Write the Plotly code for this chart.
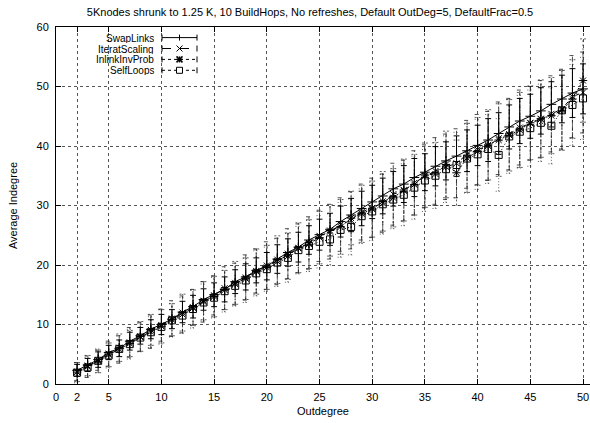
import plotly.graph_objects as go

# ---------------- data ----------------
outdegree = list(range(2, 51))

swap_y = [2.3, 3.2, 4.1, 5.3, 6.0, 7.2, 8.1, 9.2, 10.0, 10.9,
          12.1, 13.0, 14.2, 15.0, 15.9, 17.2, 18.0, 19.1, 19.8, 21.0,
          22.1, 23.0, 24.2, 25.1, 26.0, 27.3, 28.4, 29.5, 30.6, 31.6,
          32.8, 33.6, 34.7, 35.6, 36.6, 37.5, 38.3, 39.2, 40.1, 41.0,
          42.1, 43.2, 44.2, 45.0, 45.9, 47.0, 47.9, 48.9, 49.6]
swap_err = [1.0, 1.1, 1.3, 1.2, 1.4, 1.5, 1.4, 1.6, 1.7, 1.6,
            1.8, 1.9, 1.8, 2.0, 2.1, 2.0, 2.2, 2.1, 2.3, 2.4,
            2.3, 2.5, 2.4, 2.6, 2.7, 2.6, 2.8, 2.9, 2.8, 3.0,
            2.9, 3.1, 3.2, 3.1, 3.3, 3.2, 3.4, 3.5, 3.4, 3.6,
            3.5, 3.7, 3.8, 3.7, 3.9, 3.8, 4.0, 4.1, 4.2]

iter_y = [2.1, 2.9, 4.0, 5.1, 5.8, 7.0, 7.9, 8.8, 9.9, 11.0,
          11.7, 12.9, 13.8, 14.9, 16.1, 16.8, 17.9, 19.0, 19.9, 20.6,
          21.9, 22.8, 23.7, 24.9, 25.6, 26.8, 27.5, 28.9, 29.6, 30.4,
          31.9, 32.5, 33.8, 34.9, 35.8, 36.5, 37.1, 38.6, 39.4, 40.0,
          41.3, 42.0, 43.1, 43.8, 44.5, 45.4, 46.2, 48.3, 49.0]
iter_err = [1.5, 1.8, 1.7, 2.1, 2.3, 2.5, 2.4, 2.8, 2.7, 3.0,
            3.1, 3.0, 3.4, 3.3, 3.6, 3.5, 3.8, 3.7, 4.0, 3.9,
            4.2, 4.1, 4.4, 4.3, 4.6, 4.5, 4.8, 4.7, 5.0, 4.9,
            5.2, 5.1, 5.4, 5.3, 5.6, 5.5, 5.8, 5.7, 5.9, 5.8,
            6.1, 6.0, 6.3, 6.2, 6.5, 6.4, 6.7, 6.9, 6.8]

inlink_y = [2.0, 3.1, 3.8, 4.9, 6.1, 6.8, 8.0, 9.1, 9.7, 10.8,
            12.0, 12.8, 14.0, 14.7, 15.8, 17.0, 17.7, 18.9, 19.6, 20.9,
            21.5, 22.9, 23.5, 24.6, 25.8, 26.4, 27.9, 28.6, 29.4, 30.7,
            31.3, 32.6, 33.5, 35.1, 35.3, 36.9, 35.5, 38.0, 39.1, 40.2,
            41.0, 41.8, 42.7, 43.9, 44.6, 45.1, 46.0, 47.9, 51.0]
inlink_err = [1.6, 1.7, 1.9, 2.0, 2.3, 2.2, 2.5, 2.6, 2.8, 2.7,
              3.1, 3.0, 3.2, 3.4, 3.3, 3.6, 3.5, 3.8, 3.7, 4.0,
              3.9, 4.2, 4.1, 4.4, 4.3, 4.6, 4.5, 4.8, 4.7, 5.0,
              4.9, 5.2, 5.1, 5.4, 5.3, 5.6, 5.5, 5.8, 5.7, 5.9,
              6.1, 6.0, 6.3, 6.2, 6.5, 6.4, 6.7, 6.6, 7.0]

self_y = [1.9, 2.8, 3.9, 4.8, 5.9, 6.7, 7.8, 8.7, 9.6, 10.7,
          11.5, 12.6, 13.7, 14.5, 15.6, 16.5, 17.4, 18.6, 19.3, 20.4,
          21.2, 22.5, 23.2, 23.9, 24.3, 25.9, 26.4, 28.2, 29.0, 30.2,
          31.0, 31.8, 33.0, 34.2, 35.0, 36.1, 36.8, 37.9, 38.6, 39.5,
          38.5, 41.6, 42.4, 43.0, 43.9, 43.4, 46.0, 46.9, 48.0]
self_err = [1.7, 1.6, 2.0, 2.1, 2.2, 2.5, 2.4, 2.6, 2.9, 2.8,
            3.0, 3.2, 3.1, 3.4, 3.5, 3.4, 3.7, 3.8, 3.7, 4.0,
            4.1, 4.0, 4.3, 4.4, 4.3, 4.6, 4.7, 4.6, 4.9, 5.0,
            4.9, 5.2, 5.3, 5.2, 5.5, 5.6, 5.5, 5.8, 5.9, 5.8,
            6.1, 6.2, 6.1, 6.4, 6.5, 6.4, 6.7, 6.8, 6.9]

series_names = ["SwapLinks", "IteratScaling", "InlinkInvProb", "SelfLoops"]
x_ticks = [0, 2, 5, 10, 15, 20, 25, 30, 35, 40, 45, 50]
y_ticks = [0, 10, 20, 30, 40, 50, 60]

# ---------------- styles ----------------
W, H = 590, 423
ML, MR, MT, MB = 56, 0, 27, 39
FONT = "Liberation Sans, Arial, Helvetica, sans-serif"

styles = [
    dict(dash="solid", symbol="cross-thin-open", size=7, ebw=1.0, ecol="black"),
    dict(dash="4px,3px", symbol="x-thin-open", size=6, ebw=0.8, ecol="#222"),
    dict(dash="2px,2px", symbol="asterisk-open", size=7, ebw=0.8, ecol="#333"),
    dict(dash="1px,2px", symbol="square-open", size=7, ebw=0.8, ecol="#333"),
]
CAP = 0.28  # half-width of error-bar caps in x units


def errbar_path(xs, ys, es):
    X, Y = [], []
    for x, y, e in zip(xs, ys, es):
        X += [x, x, None, x - CAP, x + CAP, None, x - CAP, x + CAP, None]
        Y += [y - e, y + e, None, y - e, y - e, None, y + e, y + e, None]
    return X, Y


fig = go.Figure()
data = [(swap_y, swap_err), (iter_y, iter_err), (inlink_y, inlink_err), (self_y, self_err)]

for idx in [3, 2, 1, 0]:
    ys, es = data[idx]
    st = styles[idx]
    ex, ey = errbar_path(outdegree, ys, es)
    fig.add_trace(go.Scatter(x=ex, y=ey, mode="lines", showlegend=False,
                             line=dict(color=st["ecol"], width=st["ebw"], dash=st["dash"]),
                             hoverinfo="skip"))
for idx in [3, 2, 1, 0]:
    ys, es = data[idx]
    st = styles[idx]
    fig.add_trace(go.Scatter(x=outdegree, y=ys, mode="lines+markers", name=series_names[idx],
                             showlegend=False,
                             line=dict(color="black", width=1, dash=st["dash"]),
                             marker=dict(symbol=st["symbol"], size=st["size"], color="black",
                                         line=dict(color="black", width=1))))

# ---------------- custom gnuplot-style legend ----------------
PW = W - ML - MR
PH = H - MT - MB


def px(xp):
    return (xp - ML) / PW


def py(yp):
    return 1 - (yp - MT) / PH


shapes = []
annotations = []
rows_y = [37.6, 48.5, 59.4, 70.3]
text_right = 155
s0, s1, sm = 162, 197, 179.5
for i, name in enumerate(series_names):
    yy = rows_y[i]
    st = styles[i]
    annotations.append(dict(x=px(text_right), y=py(yy), xref="paper", yref="paper",
                            text=name, showarrow=False, xanchor="right", yanchor="middle",
                            height=10, borderpad=0,
                            font=dict(family=FONT, size=10, color="black")))
    ldash = {"solid": "solid", "4px,3px": "dash", "2px,2px": "dot", "1px,2px": "dot"}[st["dash"]]
    shapes.append(dict(type="line", xref="paper", yref="paper", x0=px(s0), x1=px(s1),
                       y0=py(yy), y1=py(yy), line=dict(color="black", width=1, dash=ldash)))
    for xe in (s0, s1):
        shapes.append(dict(type="line", xref="paper", yref="paper", x0=px(xe), x1=px(xe),
                           y0=py(yy - 3), y1=py(yy + 3), line=dict(color="black", width=1)))
    r = 3
    if i == 0:
        shapes.append(dict(type="line", xref="paper", yref="paper", x0=px(sm), x1=px(sm),
                           y0=py(yy - r), y1=py(yy + r), line=dict(color="black", width=1)))
    elif i == 1:
        for a, b in ((-r, r), (r, -r)):
            shapes.append(dict(type="line", xref="paper", yref="paper", x0=px(sm - r), x1=px(sm + r),
                               y0=py(yy + a), y1=py(yy + b), line=dict(color="black", width=1)))
    elif i == 2:
        for a, b in ((-r, r), (r, -r)):
            shapes.append(dict(type="line", xref="paper", yref="paper", x0=px(sm - r), x1=px(sm + r),
                               y0=py(yy + a), y1=py(yy + b), line=dict(color="black", width=1.5)))
        shapes.append(dict(type="line", xref="paper", yref="paper", x0=px(sm), x1=px(sm),
                           y0=py(yy - r), y1=py(yy + r), line=dict(color="black", width=1.5)))
        shapes.append(dict(type="line", xref="paper", yref="paper", x0=px(sm - r), x1=px(sm + r),
                           y0=py(yy), y1=py(yy), line=dict(color="black", width=1.5)))
    else:
        shapes.append(dict(type="rect", xref="paper", yref="paper", x0=px(sm - r), x1=px(sm + r),
                           y0=py(yy - r), y1=py(yy + r), line=dict(color="black", width=1),
                           fillcolor="white"))

fig.update_layout(
    width=W, height=H,
    margin=dict(l=ML, r=MR, t=MT, b=MB, autoexpand=False),
    paper_bgcolor="white", plot_bgcolor="white",
    font=dict(family=FONT, size=11, color="black"),
    title=dict(text="5Knodes shrunk to 1.25 K, 10 BuildHops, No refreshes, Default OutDeg=5, DefaultFrac=0.5",
               x=310 / W, xref="container", xanchor="center",
               y=1 - 12 / H, yref="container", yanchor="middle",
               font=dict(family=FONT, size=11, color="black")),
    showlegend=False,
    shapes=shapes,
    annotations=annotations,
    xaxis=dict(range=[0, PW / 10.54], tickvals=x_ticks, ticktext=[str(t) for t in x_ticks],
               automargin=False,
               showgrid=True, gridcolor="#555", griddash="dot", gridwidth=1,
               zeroline=False, showline=True, linecolor="black", linewidth=1, mirror="ticks",
               ticks="inside", ticklen=5, tickcolor="black", ticklabelstandoff=3,
               title=dict(text="Outdegree", standoff=5, font=dict(family=FONT, size=11))),
    yaxis=dict(range=[0, 60], tickvals=y_ticks, automargin=False,
               showgrid=True, gridcolor="#555", griddash="dot", gridwidth=1,
               zeroline=False, showline=True, linecolor="black", linewidth=1, mirror=False,
               ticks="inside", ticklen=5, tickcolor="black", ticklabelstandoff=4,
               title=dict(text="Average Indegree", standoff=16, font=dict(family=FONT, size=11))),
)

fig.write_html("out.html",
               config={"displayModeBar": False},
               post_script="document.body.style.margin='0px';document.body.style.padding='0px';"
                           "document.documentElement.style.overflow='hidden';")
